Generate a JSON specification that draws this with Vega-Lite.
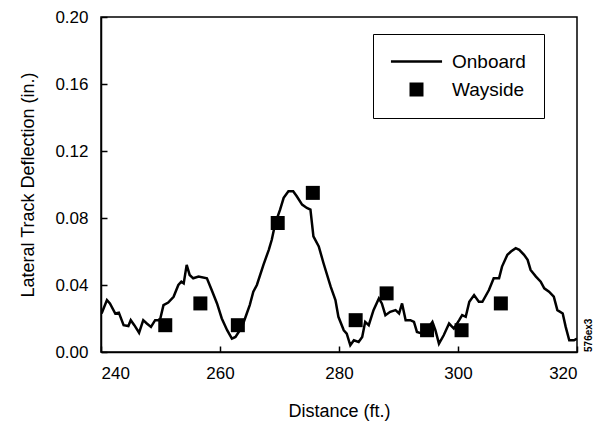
{
  "$schema": "https://vega.github.io/schema/vega-lite/v6.json",
  "width": 476,
  "height": 335,
  "autosize": "none",
  "padding": {"left": 101, "top": 17, "right": 22, "bottom": 69},
  "background": "white",
  "config": {
    "font": "Liberation Sans",
    "view": {"stroke": "black", "strokeWidth": 1.5},
    "axis": {
      "domainColor": "black", "domainWidth": 1.5,
      "tickColor": "black", "tickWidth": 1.5,
      "grid": false,
      "labelColor": "black", "titleColor": "black",
      "labelFontSize": 17, "titleFontSize": 18, "titleFontWeight": "normal",
      "labelFont": "Liberation Sans", "titleFont": "Liberation Sans"
    }
  },
  "resolve": {"axis": {"x": "independent", "y": "independent"}},
  "datasets": {
    "onboard": [
      {"distance": 240.1, "deflection": 0.023},
      {"distance": 241.0, "deflection": 0.031},
      {"distance": 241.5, "deflection": 0.029},
      {"distance": 242.4, "deflection": 0.023},
      {"distance": 243.0, "deflection": 0.0235},
      {"distance": 243.8, "deflection": 0.016},
      {"distance": 244.6, "deflection": 0.0155},
      {"distance": 245.0, "deflection": 0.019},
      {"distance": 245.6, "deflection": 0.016},
      {"distance": 246.4, "deflection": 0.0115},
      {"distance": 247.1, "deflection": 0.019},
      {"distance": 247.7, "deflection": 0.017},
      {"distance": 248.4, "deflection": 0.015},
      {"distance": 249.1, "deflection": 0.019},
      {"distance": 249.9, "deflection": 0.019},
      {"distance": 250.5, "deflection": 0.028},
      {"distance": 251.3, "deflection": 0.0295},
      {"distance": 252.2, "deflection": 0.033},
      {"distance": 253.0, "deflection": 0.040},
      {"distance": 253.5, "deflection": 0.042},
      {"distance": 253.9, "deflection": 0.041},
      {"distance": 254.4, "deflection": 0.052},
      {"distance": 254.9, "deflection": 0.046},
      {"distance": 255.5, "deflection": 0.044},
      {"distance": 256.4, "deflection": 0.045},
      {"distance": 257.8, "deflection": 0.044},
      {"distance": 258.6, "deflection": 0.037},
      {"distance": 259.5, "deflection": 0.029},
      {"distance": 260.3, "deflection": 0.020},
      {"distance": 261.2, "deflection": 0.013},
      {"distance": 262.0, "deflection": 0.008},
      {"distance": 262.6, "deflection": 0.009},
      {"distance": 263.7, "deflection": 0.015},
      {"distance": 264.5, "deflection": 0.023},
      {"distance": 265.0, "deflection": 0.028},
      {"distance": 265.6, "deflection": 0.036},
      {"distance": 266.2, "deflection": 0.040},
      {"distance": 267.3, "deflection": 0.052},
      {"distance": 268.2, "deflection": 0.061},
      {"distance": 268.7, "deflection": 0.067},
      {"distance": 269.3, "deflection": 0.077},
      {"distance": 270.1, "deflection": 0.085},
      {"distance": 270.7, "deflection": 0.092},
      {"distance": 271.5, "deflection": 0.096},
      {"distance": 272.3, "deflection": 0.096},
      {"distance": 272.9, "deflection": 0.093},
      {"distance": 273.8, "deflection": 0.088},
      {"distance": 274.6, "deflection": 0.086},
      {"distance": 275.2, "deflection": 0.085},
      {"distance": 275.7, "deflection": 0.069},
      {"distance": 276.6, "deflection": 0.063},
      {"distance": 277.4, "deflection": 0.053},
      {"distance": 278.6, "deflection": 0.039},
      {"distance": 279.4, "deflection": 0.031},
      {"distance": 279.9, "deflection": 0.021},
      {"distance": 280.8, "deflection": 0.013},
      {"distance": 281.3, "deflection": 0.011},
      {"distance": 281.9, "deflection": 0.004},
      {"distance": 282.5, "deflection": 0.007},
      {"distance": 283.3, "deflection": 0.006},
      {"distance": 283.9, "deflection": 0.009},
      {"distance": 284.4, "deflection": 0.018},
      {"distance": 285.0, "deflection": 0.016},
      {"distance": 285.8, "deflection": 0.025},
      {"distance": 286.7, "deflection": 0.032},
      {"distance": 287.2, "deflection": 0.029},
      {"distance": 287.8, "deflection": 0.022},
      {"distance": 288.6, "deflection": 0.024},
      {"distance": 289.5, "deflection": 0.025},
      {"distance": 290.1, "deflection": 0.023},
      {"distance": 290.6, "deflection": 0.029},
      {"distance": 291.2, "deflection": 0.019},
      {"distance": 292.0, "deflection": 0.019},
      {"distance": 292.6, "deflection": 0.018},
      {"distance": 293.1, "deflection": 0.012},
      {"distance": 294.0, "deflection": 0.011},
      {"distance": 295.1, "deflection": 0.015},
      {"distance": 295.7, "deflection": 0.018},
      {"distance": 296.2, "deflection": 0.013},
      {"distance": 296.8, "deflection": 0.005},
      {"distance": 297.6, "deflection": 0.010},
      {"distance": 298.5, "deflection": 0.017},
      {"distance": 299.3, "deflection": 0.014},
      {"distance": 300.2, "deflection": 0.019},
      {"distance": 300.7, "deflection": 0.022},
      {"distance": 301.3, "deflection": 0.021},
      {"distance": 301.9, "deflection": 0.030},
      {"distance": 302.7, "deflection": 0.034},
      {"distance": 303.5, "deflection": 0.030},
      {"distance": 304.1, "deflection": 0.030},
      {"distance": 305.2, "deflection": 0.037},
      {"distance": 306.0, "deflection": 0.044},
      {"distance": 306.9, "deflection": 0.044},
      {"distance": 307.4, "deflection": 0.051},
      {"distance": 308.3, "deflection": 0.058},
      {"distance": 308.9, "deflection": 0.060},
      {"distance": 309.7, "deflection": 0.062},
      {"distance": 310.3, "deflection": 0.061},
      {"distance": 311.1, "deflection": 0.058},
      {"distance": 311.7, "deflection": 0.055},
      {"distance": 312.2, "deflection": 0.049},
      {"distance": 313.1, "deflection": 0.045},
      {"distance": 313.9, "deflection": 0.042},
      {"distance": 314.5, "deflection": 0.038},
      {"distance": 315.3, "deflection": 0.036},
      {"distance": 316.1, "deflection": 0.033},
      {"distance": 316.7, "deflection": 0.025},
      {"distance": 317.6, "deflection": 0.023},
      {"distance": 318.1, "deflection": 0.015},
      {"distance": 318.7, "deflection": 0.007},
      {"distance": 319.5, "deflection": 0.007},
      {"distance": 320.0, "deflection": 0.008}
    ],
    "wayside": [
      {"distance": 250.8, "deflection": 0.016, "series": "Wayside"},
      {"distance": 256.7, "deflection": 0.029, "series": "Wayside"},
      {"distance": 263.0, "deflection": 0.016, "series": "Wayside"},
      {"distance": 269.7, "deflection": 0.077, "series": "Wayside"},
      {"distance": 275.6, "deflection": 0.095, "series": "Wayside"},
      {"distance": 282.8, "deflection": 0.019, "series": "Wayside"},
      {"distance": 288.0, "deflection": 0.035, "series": "Wayside"},
      {"distance": 294.8, "deflection": 0.013, "series": "Wayside"},
      {"distance": 300.6, "deflection": 0.013, "series": "Wayside"},
      {"distance": 307.2, "deflection": 0.029, "series": "Wayside"}
    ],
    "note": [
      {"distance": 322.0, "deflection": 0.010, "text": "576ex3"}
    ]
  },
  "layer": [
    {
      "data": {"name": "onboard"},
      "mark": {"type": "line", "color": "black", "strokeWidth": 2.5, "clip": true},
      "encoding": {
        "x": {
          "field": "distance", "type": "quantitative",
          "scale": {"domain": [240, 320], "nice": false, "zero": false},
          "axis": {"orient": "bottom", "values": [240, 260, 280, 300, 320], "ticks": false, "labelPadding": 13, "title": "Distance (ft.)", "titlePadding": 21}
        },
        "y": {
          "field": "deflection", "type": "quantitative",
          "scale": {"domain": [0, 0.2], "nice": false},
          "axis": {"orient": "left", "values": [0, 0.04, 0.08, 0.12, 0.16, 0.2], "format": ".2f", "ticks": false, "labelPadding": 13, "title": "Lateral Track Deflection (in.)", "titlePadding": 17}
        }
      }
    },
    {
      "data": {"name": "wayside"},
      "mark": {"type": "point", "filled": true, "color": "black", "opacity": 1, "size": 196},
      "encoding": {
        "x": {
          "field": "distance", "type": "quantitative",
          "axis": {"orient": "bottom", "offset": -6, "values": [240, 260, 280, 300, 320], "labels": false, "domain": false, "title": null, "ticks": true, "tickSize": 6, "tickWidth": 1.5}
        },
        "y": {
          "field": "deflection", "type": "quantitative",
          "axis": {"orient": "left", "offset": -6, "values": [0, 0.04, 0.08, 0.12, 0.16, 0.2], "labels": false, "domain": false, "title": null, "ticks": true, "tickSize": 6, "tickWidth": 1.5}
        },
        "shape": {
          "field": "series", "type": "nominal",
          "scale": {"domain": ["Onboard", "Wayside"], "range": ["M-3.65,-0.18H3.65V0.18H-3.65Z", "square"]},
          "legend": {
            "orient": "none", "legendX": 272, "legendY": 17, "title": null,
            "fillColor": "white", "strokeColor": "black", "padding": 18,
            "symbolOffset": 16, "labelOffset": 26, "rowPadding": 8,
            "symbolSize": 196, "symbolFillColor": "black", "symbolStrokeWidth": 0,
            "labelFontSize": 19, "labelColor": "black", "labelFont": "Liberation Sans"
          }
        }
      }
    },
    {
      "data": {"name": "note"},
      "mark": {"type": "text", "angle": 270, "fontSize": 10, "fontWeight": "bold", "color": "black", "clip": false},
      "encoding": {
        "x": {"field": "distance", "type": "quantitative", "axis": null},
        "y": {"field": "deflection", "type": "quantitative", "axis": null},
        "text": {"field": "text"}
      }
    }
  ]
}
